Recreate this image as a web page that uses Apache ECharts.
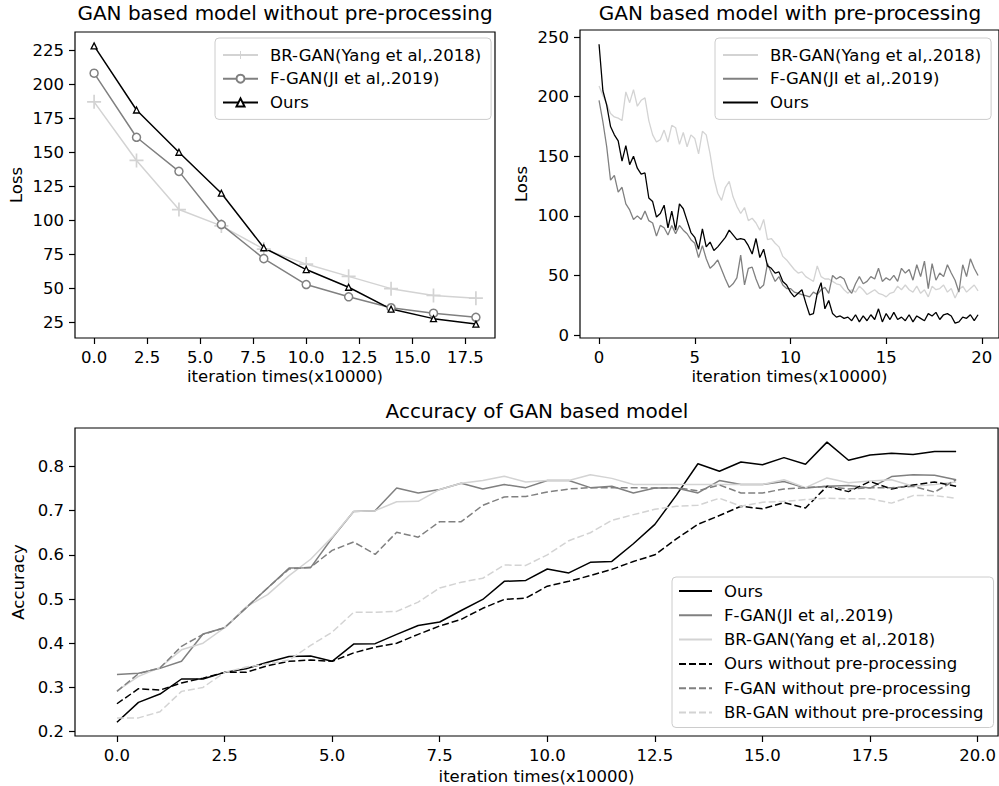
<!DOCTYPE html>
<html>
<head>
<meta charset="utf-8">
<script src="https://cdn.jsdelivr.net/npm/echarts@6/dist/echarts.min.js"></script>
<style>
  html, body { margin: 0; padding: 0; background: #fff; }
  #main { width: 999px; height: 786px; }
</style>
</head>
<body>
<div id="main"></div>
<script>
// top-left: loss, without pre-processing (every 2 x10000 iterations)
const noPreIters = [0, 2, 4, 6, 8, 10, 12, 14, 16, 18];
const noPreBR = [187, 144, 108, 96, 79, 68, 59, 50, 45, 43];
const noPreF = [208, 161, 136, 97, 72, 53, 44, 36, 32, 29];
const noPreOurs = [228, 181, 150, 120, 80, 64, 51, 35, 28, 24];

// top-right: loss, with pre-processing (one reading every 0.2 x10000)
const preStep = 0.2;
const preBR = [209, 201, 194, 186, 183, 182, 180, 204, 195, 206,
  192, 197, 199, 180, 168, 162, 164, 172, 162, 176,
  174, 160, 170, 158, 168, 165, 152, 171, 168, 152,
  132, 119, 113, 124, 129, 116, 108, 102, 107, 96,
  98, 94, 88, 97, 80, 81, 77, 74, 66, 63,
  59, 55, 52, 53, 49, 47, 45, 58, 49, 47,
  47, 45, 43, 42, 38, 35, 38, 36, 41, 38,
  34, 36, 38, 35, 34, 32, 35, 36, 41, 38,
  42, 38, 36, 41, 35, 38, 32, 41, 38, 39,
  42, 36, 39, 31, 38, 41, 36, 39, 42, 37];
const preF = [197, 179, 158, 130, 134, 120, 124, 110, 105, 97,
  100, 97, 104, 96, 94, 83, 92, 90, 84, 92,
  85, 92, 88, 85, 80, 77, 65, 75, 64, 56,
  59, 63, 55, 47, 40, 43, 48, 67, 42, 56,
  57, 47, 39, 42, 60, 52, 45, 49, 42, 39,
  39, 36, 35, 34, 33, 32, 36, 34, 38, 40,
  35, 50, 47, 49, 47, 39, 35, 43, 49, 43,
  45, 49, 47, 56, 45, 48, 46, 50, 45, 56,
  52, 55, 46, 59, 49, 62, 39, 60, 46, 52,
  49, 59, 52, 46, 36, 59, 49, 64, 56, 50];
const preOurs = [244, 205, 193, 175, 168, 163, 146, 159, 143, 150,
  140, 135, 136, 115, 112, 99, 102, 109, 90, 104,
  88, 110, 106, 96, 86, 82, 72, 89, 74, 78,
  71, 74, 78, 82, 88, 84, 80, 81, 80, 75,
  68, 81, 65, 72, 58, 56, 52, 53, 45, 42,
  36, 32, 35, 38, 27, 17, 18, 35, 44, 22,
  29, 18, 15, 16, 14, 15, 12, 17, 11, 16,
  12, 17, 13, 22, 11, 18, 13, 19, 13, 15,
  12, 17, 11, 16, 14, 12, 18, 16, 19, 13,
  17, 18, 16, 10, 11, 15, 14, 17, 12, 17];

// bottom: accuracy (one reading every 0.5 x10000)
const accStep = 0.5;
const accOurs = [0.221, 0.266, 0.285, 0.319, 0.319, 0.334, 0.342, 0.357, 0.370, 0.371,
  0.359, 0.398, 0.399, 0.420, 0.440, 0.448, 0.474, 0.499, 0.540, 0.542,
  0.568, 0.559, 0.583, 0.585, 0.625, 0.669, 0.735, 0.806, 0.789, 0.810,
  0.804, 0.820, 0.805, 0.855, 0.814, 0.826, 0.830, 0.827, 0.834, 0.834];
const accF = [0.329, 0.332, 0.343, 0.359, 0.421, 0.435, 0.480, 0.525, 0.570, 0.571,
  0.638, 0.698, 0.700, 0.751, 0.740, 0.748, 0.762, 0.749, 0.759, 0.752,
  0.768, 0.768, 0.752, 0.755, 0.740, 0.751, 0.751, 0.740, 0.768, 0.759,
  0.759, 0.766, 0.751, 0.755, 0.757, 0.751, 0.777, 0.781, 0.780, 0.770];
const accBR = [0.292, 0.325, 0.345, 0.385, 0.400, 0.435, 0.482, 0.510, 0.553, 0.590,
  0.640, 0.698, 0.700, 0.720, 0.721, 0.748, 0.762, 0.768, 0.778, 0.765,
  0.768, 0.768, 0.781, 0.773, 0.759, 0.759, 0.759, 0.759, 0.759, 0.759,
  0.759, 0.770, 0.752, 0.774, 0.763, 0.767, 0.770, 0.755, 0.759, 0.765];
const accOursNoPre = [0.263, 0.297, 0.294, 0.310, 0.321, 0.334, 0.334, 0.349, 0.359, 0.362,
  0.359, 0.378, 0.391, 0.400, 0.420, 0.439, 0.454, 0.479, 0.499, 0.502,
  0.529, 0.540, 0.553, 0.567, 0.585, 0.600, 0.636, 0.669, 0.689, 0.710,
  0.704, 0.718, 0.706, 0.755, 0.743, 0.766, 0.749, 0.758, 0.765, 0.755];
const accFNoPre = [0.291, 0.331, 0.344, 0.393, 0.420, 0.435, 0.480, 0.525, 0.568, 0.572,
  0.610, 0.629, 0.601, 0.651, 0.640, 0.675, 0.675, 0.712, 0.731, 0.732,
  0.742, 0.749, 0.752, 0.752, 0.752, 0.751, 0.752, 0.745, 0.758, 0.740,
  0.740, 0.749, 0.752, 0.755, 0.749, 0.752, 0.752, 0.755, 0.742, 0.770];
const accBRNoPre = [0.231, 0.231, 0.245, 0.291, 0.300, 0.334, 0.346, 0.353, 0.362, 0.395,
  0.425, 0.470, 0.470, 0.472, 0.493, 0.525, 0.538, 0.547, 0.577, 0.576,
  0.600, 0.632, 0.650, 0.678, 0.691, 0.703, 0.710, 0.712, 0.728, 0.710,
  0.719, 0.721, 0.725, 0.728, 0.727, 0.727, 0.717, 0.734, 0.734, 0.728];

// tick labels
const ticksTL_x = [0, 2.5, 5, 7.5, 10, 12.5, 15, 17.5];
const ticksTL_y = [25, 50, 75, 100, 125, 150, 175, 200, 225];
const ticksTR_x = [0, 5, 10, 15, 20];
const ticksTR_y = [0, 50, 100, 150, 200, 250];
const ticksB_x = [0, 2.5, 5, 7.5, 10, 12.5, 15, 17.5, 20];
const ticksB_y = [0.2, 0.3, 0.4, 0.5, 0.6, 0.7, 0.8];

const FONT = 'DejaVu Sans';
const LIGHT = '#d3d3d3', MID = '#808080', DARK = '#000000';
const CROSS = 'path://M-1,-0.12L-0.12,-0.12L-0.12,-1L0.12,-1L0.12,-0.12L1,-0.12L1,0.12L0.12,0.12L0.12,1L-0.12,1L-0.12,0.12L-1,0.12Z';

const pairs = (xs, ys) => ys.map((y, i) => [xs[i], y]);
const stepPairs = (step, ys) => ys.map((y, i) => [+(i * step).toFixed(2), y]);

var myChart = echarts.init(document.getElementById('main'), null, { renderer: 'svg' });

function axis(gridIndex, min, max, ticks, digits, name, nameGap) {
    return {
        type: 'value', gridIndex: gridIndex, min: min, max: max,
        name: name, nameLocation: 'middle', nameGap: nameGap,
        nameTextStyle: { fontFamily: FONT, fontSize: 16.5, color: '#000' },
        axisLine: { show: false, onZero: false },
        splitLine: { show: false },
        axisTick: { show: true, length: 6, customValues: ticks, lineStyle: { color: '#000', width: 1.2 } },
        axisLabel: {
            customValues: ticks, margin: 11,
            fontFamily: FONT, fontSize: 16.5, color: '#000',
            formatter: v => v.toFixed(digits)
        }
    };
}

// plain = hide the marker in the legend handle, keep only the line
function legend(left, top, names, pad, itemWidth, pitch, plain) {
    return {
        orient: 'vertical', left: left, top: top, data: names,
        padding: pad, itemWidth: itemWidth, itemHeight: 10, itemGap: pitch - 18,
        selectedMode: false,
        backgroundColor: 'rgba(255,255,255,0.8)',
        borderColor: '#cccccc', borderWidth: 1, borderRadius: 4,
        itemStyle: plain ? { opacity: 0 } : {},
        textStyle: { fontFamily: FONT, fontSize: 16.5, color: '#000', lineHeight: 18, padding: [0, 0, 0, 7] },
        formatter: n => n.split('#')[0]
    };
}

function line(name, xi, yi, data, color, dashed, width) {
    return {
        name: name, type: 'line', xAxisIndex: xi, yAxisIndex: yi, data: data,
        symbol: 'none', animation: false,
        lineStyle: { color: color, width: width || 1.5, type: dashed ? [7, 3] : 'solid' },
        itemStyle: { color: color }
    };
}

const tl = ['BR-GAN(Yang et al,.2018)#1', 'F-GAN(JI et al,.2019)#1', 'Ours#1'];
const tr = ['BR-GAN(Yang et al,.2018)#2', 'F-GAN(JI et al,.2019)#2', 'Ours#2'];
const bt = ['Ours#3', 'F-GAN(JI et al,.2019)#3', 'BR-GAN(Yang et al,.2018)#3',
    'Ours without pre-processing#3', 'F-GAN without pre-processing#3', 'BR-GAN without pre-processing#3'];

var option = {
    animation: false,
    backgroundColor: '#fff',
    grid: [
        { left: 75, top: 32, width: 420, height: 306, show: true, borderColor: '#000', borderWidth: 1.2, containLabel: false },
        { left: 580, top: 30, width: 420, height: 308, show: true, borderColor: '#000', borderWidth: 1.2, containLabel: false },
        { left: 75, top: 428, width: 924, height: 308, show: true, borderColor: '#000', borderWidth: 1.2, containLabel: false }
    ],
    xAxis: [
        axis(0, -0.9, 18.9, ticksTL_x, 1, 'iteration times(x10000)', 30),
        axis(1, -0.995, 20.895, ticksTR_x, 0, 'iteration times(x10000)', 30),
        axis(2, -0.975, 20.475, ticksB_x, 1, 'iteration times(x10000)', 32)
    ],
    yAxis: [
        axis(0, 13.8, 238.2, ticksTL_y, 0, 'Loss', 50),
        axis(1, -2.5, 256, ticksTR_y, 0, 'Loss', 50),
        axis(2, 0.19, 0.887, ticksB_y, 1, 'Accuracy', 47)
    ],
    legend: [
        legend(215, 38, tl, [8, 10, 8, 7], 35, 23.7, false),
        legend(715, 38, tr, [8, 10, 8, 7], 35, 23.7, true),
        legend(672, 577, bt, [5, 10, 6, 6], 33, 24.3, true)
    ],
    graphic: [
        { type: 'text', x: 285, y: 13, style: { text: 'GAN based model without pre-processing', align: 'center', verticalAlign: 'middle', fontFamily: FONT, fontSize: 20, fill: '#000' } },
        { type: 'text', x: 790, y: 13, style: { text: 'GAN based model with pre-processing', align: 'center', verticalAlign: 'middle', fontFamily: FONT, fontSize: 20, fill: '#000' } },
        { type: 'text', x: 537, y: 411, style: { text: 'Accuracy of GAN based model', align: 'center', verticalAlign: 'middle', fontFamily: FONT, fontSize: 20, fill: '#000' } }
    ],
    series: [
        {
            name: tl[0], type: 'line', xAxisIndex: 0, yAxisIndex: 0, data: pairs(noPreIters, noPreBR),
            symbol: CROSS, symbolSize: 14,
            lineStyle: { color: LIGHT, width: 1.5 }, itemStyle: { color: LIGHT }
        },
        {
            name: tl[1], type: 'line', xAxisIndex: 0, yAxisIndex: 0, data: pairs(noPreIters, noPreF),
            symbol: 'circle', symbolSize: 8,
            lineStyle: { color: MID, width: 1.5 }, itemStyle: { color: '#fff', borderColor: MID, borderWidth: 1.5 }
        },
        {
            name: tl[2], type: 'line', xAxisIndex: 0, yAxisIndex: 0, data: pairs(noPreIters, noPreOurs),
            symbol: 'triangle', symbolSize: 6,
            lineStyle: { color: DARK, width: 1.5 }, itemStyle: { color: '#fff', borderColor: DARK, borderWidth: 1.3 }
        },
        line(tr[0], 1, 1, stepPairs(preStep, preBR), LIGHT, false, 1.3),
        line(tr[1], 1, 1, stepPairs(preStep, preF), MID, false, 1.3),
        line(tr[2], 1, 1, stepPairs(preStep, preOurs), DARK, false, 1.3),
        line(bt[0], 2, 2, stepPairs(accStep, accOurs), DARK, false),
        line(bt[1], 2, 2, stepPairs(accStep, accF), MID, false),
        line(bt[2], 2, 2, stepPairs(accStep, accBR), LIGHT, false),
        line(bt[3], 2, 2, stepPairs(accStep, accOursNoPre), DARK, true),
        line(bt[4], 2, 2, stepPairs(accStep, accFNoPre), MID, true),
        line(bt[5], 2, 2, stepPairs(accStep, accBRNoPre), LIGHT, true)
    ]
};

myChart.setOption(option);
</script>
</body>
</html>
